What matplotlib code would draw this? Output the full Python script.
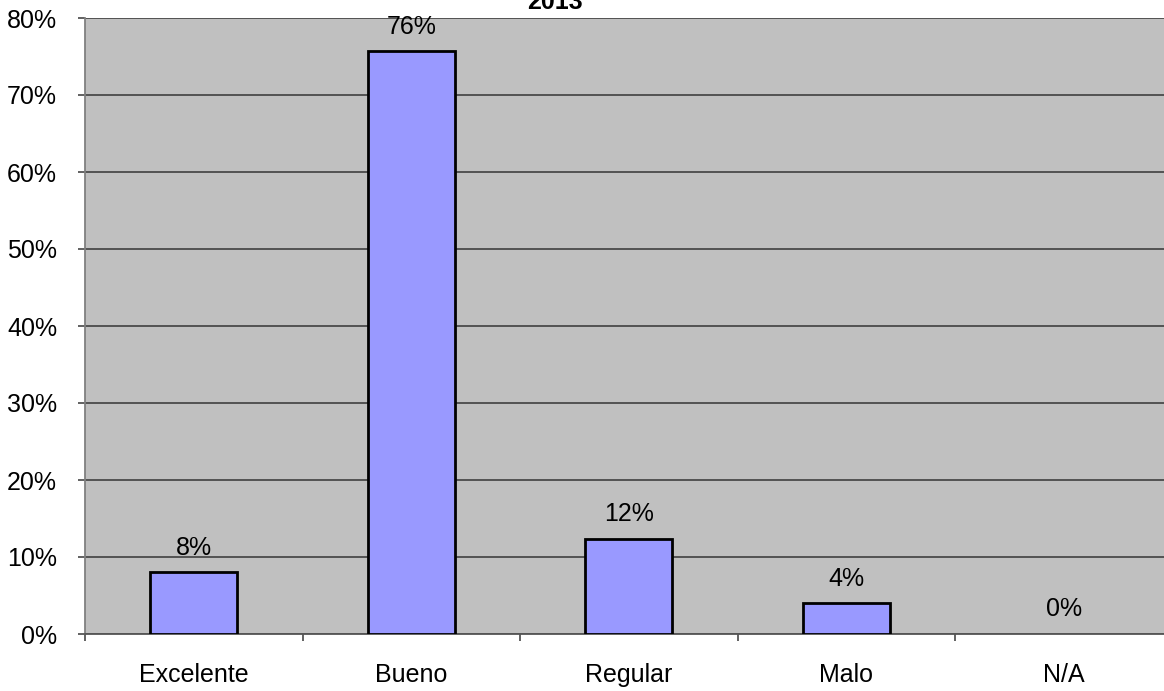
import numpy as np
import matplotlib.pyplot as plt
from matplotlib.ticker import FixedLocator, NullFormatter

plt.rcParams['font.family'] = ['Liberation Sans', 'DejaVu Sans']

categories = ["Excelente", "Bueno", "Regular", "Malo", "N/A"]
values = [8.0, 75.7, 12.4, 4.0, 0.0]
labels = ["8%", "76%", "12%", "4%", "0%"]
title = "2013"

fig = plt.figure(figsize=(11.64, 6.91), dpi=100)
ax = fig.add_axes([85 / 1164, 1 - 634 / 691, (1164 - 85) / 1164, (634 - 18) / 691])
ax.set_facecolor("#C0C0C0")

x = np.arange(len(categories))
edge_w = [2 if v > 0 else 0 for v in values]
ax.bar(x, values, width=0.4, color="#9999FF", edgecolor="black", linewidth=edge_w, zorder=3)

for xi, v, lab in zip(x, values, labels):
    ax.annotate(lab, (xi, v), xytext=(0, 9), textcoords="offset points",
                ha="center", va="bottom", fontsize=18)

ax.set_xlim(-0.5, -0.5 + (1164 - 85) / 217.5)
ax.set_ylim(0, 80)
ax.set_yticks(np.arange(0, 81, 10))
ax.set_yticklabels([f"{t}%" for t in range(0, 81, 10)])
ax.yaxis.grid(True, color="#4a4a4a", linewidth=1.3, zorder=1)
ax.set_axisbelow(True)

ax.xaxis.set_major_locator(FixedLocator(np.arange(-0.5, 4.6, 1)))
ax.xaxis.set_major_formatter(NullFormatter())
ax.xaxis.set_minor_locator(FixedLocator(x))
ax.set_xticklabels(categories, minor=True)
ax.tick_params(axis="x", which="minor", length=0, pad=21, labelsize=18)
ax.tick_params(axis="x", which="major", length=5, color="#555555", width=1.3)
ax.tick_params(axis="y", length=5, color="#555555", width=1.3, pad=15, labelsize=18)

for s in ["top", "right"]:
    ax.spines[s].set_visible(False)
ax.spines["left"].set_color("#808080")
ax.spines["bottom"].set_color("#555555")
ax.spines["left"].set_linewidth(1.3)
ax.spines["bottom"].set_linewidth(1.3)

fig.text(555 / 1164, 0.997, title, ha="center", va="center", fontsize=18, fontweight="bold")

fig.savefig("out.png", dpi=100)
